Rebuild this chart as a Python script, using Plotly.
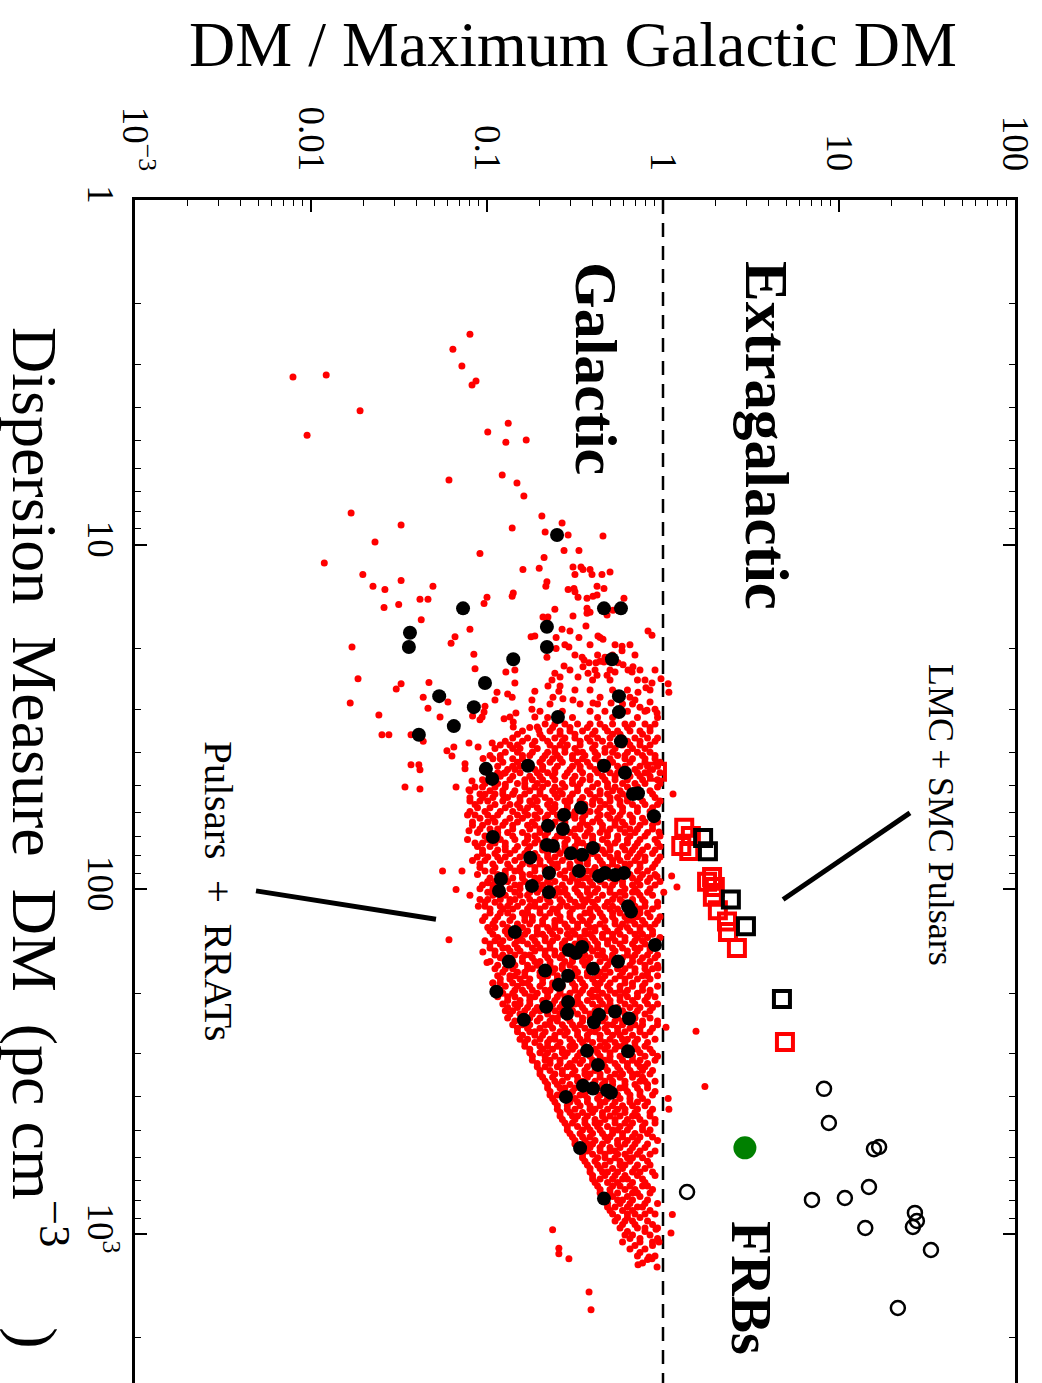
import plotly.graph_objects as go

# ---------------- data ----------------
# Pulsars (red dots): (DM [pc cm^-3], DM / max Galactic DM)
psr_upper = [(2.45,0.080),(2.71,0.064),(3.03,0.072),(3.35,0.0866),(3.44,0.0822),(3.26,0.0079),(3.22,0.0122),(4.09,0.0190),(4.81,0.0095),(4.44,0.132),(4.71,0.101),(5.04,0.128),(4.97,0.167),(6.49,0.0608),(6.28,0.122),(6.62,0.148),(7.22,0.162),(8.09,0.0169),(8.77,0.0325),(9.82,0.0231),(8.26,0.205),(8.65,0.267),(8.94,0.139),(9.19,0.214),(9.37,0.289),(9.44,0.456),(10.4,0.274),(10.4,0.333),(10.6,0.0912),(10.9,0.211),(11.3,0.0119),(12.2,0.0197),(13.2,0.0225),(13.5,0.0263),(12.7,0.0325),(13.2,0.0493),(14.4,0.0416),(14.4,0.0462),(14.2,0.100),(14.1,0.139),(13.8,0.141),(11.8,0.160),(11.7,0.198),(12.8,0.219),(13.2,0.216),(11.6,0.308),(11.6,0.342),(11.8,0.351),(11.8,0.385),(12.2,0.395),(12.2,0.316),(12.2,0.450),(12.0,0.500),(13.5,0.289),(13.4,0.312),(13.7,0.316),(13.2,0.422),(13.4,0.462),(14.2,0.329),(14.3,0.370),(14.1,0.400),(14.0,0.422),(14.3,0.600),(15.2,0.026),(14.9,0.0315),(16.5,0.0423),(14.8,0.0962),(15.3,0.370),(15.7,0.385),(15.8,0.370),(16.0,0.481),(15.5,0.520),(15.4,0.243),(16.2,0.208),(16.2,0.222),(16.7,0.219),(16.1,0.308),(17.2,0.365),(17.6,0.267),(17.8,0.296),(18.6,0.333),(18.4,0.427),(18.6,0.439),(18.8,0.456),(17.8,0.822),(18.3,0.866),(17.6,0.080),(18.5,0.0658),(19.3,0.0625),(19.8,0.0171),(18.5,0.178),(18.4,0.187),(18.6,0.247),(20.0,0.247),(19.8,0.292),(21.2,0.219),(19.7,0.585),(20.3,0.585),(21.2,0.468),(22.0,0.555),(22.3,0.593),(22.6,0.675),(23.4,0.667),(23.1,0.633),(20.8,0.0842),(22.9,0.0855),(23.4,0.128),(23.1,0.144),(25.2,0.144),(21.2,0.347),(21.6,0.356),(22.0,0.380),(22.0,0.416),(21.8,0.439),(21.9,0.462),(23.1,0.500),(23.4,0.534),(22.6,0.351),(23.6,0.375),(24.2,0.329),(23.9,0.422),(23.9,0.481),(22.5,0.274),(23.6,0.243),(24.2,0.260),(24.7,0.234),(25.7,0.222),(25.7,0.260),(26.6,0.256),(27.7,0.237),(28.0,0.270),(24.5,0.0185),(26.2,0.0305),(25.3,0.0325),(25.1,0.0468),(26.8,0.114),(27.1,0.131),(27.7,0.139),(26.6,0.187),(28.2,0.180),(28.8,0.0167),(27.7,0.0434),(28.6,0.0600),(31.2,0.0243),(29.8,0.0462),(29.4,0.0974),(28.2,0.111),(30.6,0.0962),(31.6,0.0938),(32.2,0.0912),(31.4,0.0828),(31.6,0.0541),(32.0,0.125),(31.6,0.135),(32.7,0.141),(30.8,0.146),(33.8,0.141),(30.0,0.180),(31.6,0.187),(30.4,0.200),(33.8,0.193),(34.5,0.197),(28.2,0.308),(28.8,0.400),(27.7,0.439),(28.8,0.507),(30.2,0.548),(27.7,0.649),(26.8,0.721),(26.0,0.800),(28.2,0.693),(29.6,0.740),(28.6,0.844),(30.2,0.811),(30.0,0.901),(30.8,0.925),(24.7,0.790),(25.2,0.866),(24.5,0.974),(25.3,1.07),(26.8,1.08),(35.6,0.0253),(35.6,0.0277),(35.6,0.0370),(37.2,0.0434),(43.5,0.0370),(43.5,0.0410),(45.0,0.0416),(50.5,0.0342),(51.1,0.0416),(39.6,0.0592),(41.0,0.0632),(38.6,0.0648),(37.6,0.0790),(38.6,0.0890),(37.6,0.107),(43.2,0.0750),(44.7,0.0750),(48.5,0.0822),(51.4,0.0790),(54.2,0.0800),(41.7,0.0950),(50.5,0.0667),(53.0,0.0974),(46.0,0.125),(49.5,0.127),(54.2,0.125),(53.0,0.141)]

psr_left_mid = [(88.4,0.0559),(88.4,0.0721),(100,0.0667),(104,0.0800),(67.6,0.0790),(80.6,0.0880),(95.6,0.101),(112,0.0893),(140,0.0608),(152,0.0947),(163,0.100),(187,0.108)]

psr_right = [(373,1.73),(404,1.07),(434,1.08),(251,1.04),(258,1.54),(52.9,1.14),(91.4,1.12),(98.4,1.20),(102,1.01),(68.1,0.949),(169,0.937),(91.7,0.925),(877,1.13),(993,1.11)]

psr_bottom = [(971,0.236),(1100,0.256),(1140,0.256),(1180,0.292),(1472,0.380),(1658,0.390),(1246,0.925),(1228,0.721),(1165,0.833),(1180,0.866),(968,0.913),(1054,0.949)]

# pulsar cloud read row by row (DM of the row, ratios along the row)
band_u_dm = [19.5, 20.9, 23.1, 24.7, 26.4, 29.0, 30.4, 31.7]
band_u_ratio = [
    [0.277,0.385,0.534,0.649],
    [0.316,0.425,0.517,0.693],
    [0.296,0.411,0.740,0.901],
    [0.398,0.500,0.716],
    [0.316,0.385,0.517,0.628,0.844],
    [0.228,0.338,0.425,0.589,0.671],
    [0.268,0.385,0.468,0.628,0.790],
    [0.221,0.306,0.425,0.517,0.716,0.931],
]

band_a_dm = [33.1, 34.7, 36.4, 38.1, 40.0, 41.8, 43.9, 45.9, 48.1, 50.5, 52.9]
band_a_ratio = [
    [0.214,0.243,0.277,0.327,0.385,0.439,0.517,0.608,0.671,0.790,0.901],
    [0.159,0.228,0.260,0.296,0.349,0.411,0.484,0.552,0.649,0.740,0.844],
    [0.140,0.170,0.207,0.243,0.277,0.316,0.372,0.425,0.500,0.589,0.693,0.817,0.931],
    [0.119,0.135,0.149,0.181,0.228,0.260,0.286,0.338,0.411,0.500,0.589,0.649,0.740,0.844],
    [0.127,0.149,0.181,0.221,0.243,0.277,0.327,0.349,0.411,0.468,0.517,0.628,0.716,0.844],
    [0.108,0.119,0.140,0.159,0.207,0.236,0.260,0.306,0.349,0.411,0.500,0.608,0.671,0.790,0.901],
    [0.115,0.140,0.154,0.175,0.207,0.251,0.306,0.338,0.385,0.484,0.552,0.608,0.740,0.817,0.931],
    [0.101,0.115,0.127,0.154,0.193,0.221,0.243,0.286,0.349,0.425,0.500,0.552,0.628,0.716,0.790,0.962],
    [0.0943,0.111,0.135,0.164,0.181,0.207,0.243,0.306,0.349,0.385,0.468,0.534,0.628,0.765,0.931],
    [0.0855,0.0943,0.111,0.127,0.164,0.187,0.207,0.243,0.277,0.327,0.398,0.484,0.534,0.628,0.716,0.931],
    [0.0912,0.111,0.123,0.140,0.164,0.200,0.243,0.268,0.306,0.385,0.439,0.484,0.589,0.649,0.740,0.872],
]
band_a2_dm = [33.9, 35.5, 37.2, 39.0, 40.9, 42.8, 44.9, 47.0, 49.3, 51.7, 54.1]
band_a2_ratio = [
    [0.175,0.236,0.296,0.372,0.468,0.628,0.844],
    [0.149,0.200,0.260,0.316,0.398,0.517,0.570,0.765],
    [0.127,0.159,0.187,0.221,0.268,0.338,0.385,0.453,0.552,0.628,0.740,0.901],
    [0.111,0.140,0.154,0.193,0.243,0.277,0.316,0.398,0.468,0.534,0.671,0.790],
    [0.104,0.119,0.159,0.175,0.214,0.251,0.306,0.360,0.425,0.552,0.608,0.765,0.901],
    [0.123,0.149,0.170,0.200,0.228,0.268,0.327,0.372,0.439,0.517,0.649,0.790,0.962],
    [0.0943,0.131,0.144,0.187,0.207,0.243,0.296,0.338,0.411,0.468,0.570,0.693,0.872],
    [0.119,0.140,0.175,0.200,0.236,0.277,0.316,0.385,0.453,0.534,0.649,0.740,0.844],
    [0.0974,0.115,0.149,0.164,0.193,0.221,0.268,0.306,0.338,0.425,0.484,0.589,0.693,0.790,0.962],
    [0.0800,0.104,0.123,0.144,0.175,0.200,0.236,0.260,0.327,0.372,0.439,0.517,0.570,0.693,0.844],
    [0.0943,0.108,0.131,0.154,0.187,0.214,0.251,0.296,0.349,0.411,0.500,0.552,0.628,0.740,0.901],
]

band_b_dm = [55.4, 58.0, 60.8, 63.7, 66.8, 70.0, 73.4, 76.9, 80.5, 84.4, 88.4, 92.7, 97.1]
band_b_ratio = [
    [0.0800,0.0912,0.101,0.123,0.154,0.175,0.193,0.228,0.277,0.296,0.338,0.398,0.439,0.500,0.570,0.628,0.765,0.962],
    [0.0883,0.104,0.127,0.154,0.170,0.193,0.228,0.243,0.286,0.327,0.360,0.439,0.500,0.589,0.716,0.872],
    [0.0775,0.0855,0.101,0.115,0.149,0.170,0.187,0.221,0.251,0.296,0.316,0.360,0.439,0.484,0.570,0.649,0.844],
    [0.0827,0.101,0.111,0.127,0.149,0.181,0.221,0.243,0.277,0.349,0.398,0.439,0.534,0.589,0.671,0.790,0.931],
    [0.0912,0.104,0.115,0.140,0.175,0.200,0.221,0.260,0.316,0.338,0.385,0.453,0.500,0.570,0.649,0.716,0.872],
    [0.0974,0.115,0.140,0.170,0.187,0.214,0.251,0.268,0.316,0.360,0.398,0.484,0.552,0.649,0.790,0.962],
    [0.0855,0.0943,0.111,0.127,0.164,0.187,0.207,0.243,0.277,0.327,0.349,0.398,0.484,0.534,0.628,0.716,0.931],
    [0.0943,0.115,0.127,0.144,0.170,0.207,0.251,0.277,0.316,0.398,0.453,0.500,0.608,0.671,0.765,0.901],
    [0.101,0.115,0.127,0.154,0.193,0.221,0.243,0.286,0.349,0.372,0.425,0.500,0.552,0.628,0.716,0.790,0.962],
    [0.0912,0.108,0.131,0.159,0.175,0.200,0.236,0.251,0.296,0.338,0.372,0.453,0.517,0.608,0.649,0.740,0.901],
    [0.0974,0.108,0.127,0.144,0.154,0.187,0.214,0.236,0.277,0.316,0.372,0.398,0.453,0.552,0.608,0.716,0.817],
    [0.104,0.127,0.140,0.159,0.187,0.200,0.228,0.277,0.306,0.349,0.372,0.439,0.500,0.552,0.671,0.740,0.844],
    [0.0943,0.108,0.119,0.144,0.154,0.181,0.207,0.228,0.268,0.327,0.349,0.398,0.468,0.517,0.589,0.671,0.740,0.901],
]
band_b2_dm = [56.7, 59.4, 62.2, 65.2, 68.4, 71.7, 75.1, 78.7, 82.4, 86.4, 90.5, 94.9, 99.5]
band_b2_ratio = [
    [0.0855,0.111,0.135,0.149,0.181,0.221,0.243,0.286,0.360,0.398,0.468,0.570,0.671,0.790,0.931],
    [0.0800,0.0974,0.119,0.140,0.164,0.200,0.236,0.268,0.316,0.385,0.425,0.517,0.589,0.716,0.844],
    [0.0912,0.108,0.135,0.159,0.193,0.214,0.260,0.316,0.349,0.425,0.500,0.552,0.671,0.765,0.901],
    [0.0827,0.0943,0.123,0.140,0.170,0.187,0.236,0.277,0.338,0.372,0.453,0.534,0.608,0.740,0.872],
    [0.0883,0.115,0.131,0.159,0.200,0.221,0.268,0.296,0.372,0.439,0.484,0.608,0.693,0.817],
    [0.0775,0.101,0.119,0.144,0.170,0.193,0.243,0.286,0.327,0.398,0.453,0.552,0.628,0.740,0.901],
    [0.0883,0.104,0.127,0.149,0.175,0.207,0.236,0.277,0.316,0.372,0.425,0.500,0.589,0.693,0.817,0.962],
    [0.0943,0.111,0.135,0.164,0.187,0.221,0.260,0.306,0.349,0.398,0.468,0.552,0.649,0.740,0.872],
    [0.0827,0.0974,0.119,0.144,0.170,0.200,0.228,0.268,0.327,0.372,0.439,0.517,0.570,0.693,0.790,0.931],
    [0.0912,0.111,0.135,0.154,0.187,0.214,0.251,0.296,0.338,0.411,0.484,0.552,0.628,0.740,0.872],
    [0.0883,0.115,0.127,0.159,0.175,0.221,0.260,0.306,0.349,0.398,0.468,0.517,0.649,0.765,0.901],
    [0.101,0.111,0.131,0.164,0.193,0.221,0.243,0.296,0.327,0.385,0.439,0.534,0.589,0.716,0.817,0.962],
    [0.0912,0.108,0.135,0.154,0.175,0.200,0.251,0.277,0.316,0.372,0.425,0.500,0.608,0.693,0.844],
]

band_c_dm = [102, 107, 112, 117, 123, 129, 135, 141, 148, 155, 162, 170, 178, 187, 196, 205]
band_c_ratio = [
    [0.101,0.119,0.144,0.175,0.193,0.221,0.260,0.277,0.327,0.372,0.411,0.500,0.570,0.671,0.716,0.817],
    [0.0912,0.101,0.119,0.135,0.144,0.175,0.200,0.221,0.260,0.296,0.349,0.372,0.425,0.517,0.570,0.671,0.765],
    [0.0974,0.119,0.131,0.149,0.175,0.187,0.214,0.260,0.286,0.327,0.349,0.411,0.468,0.517,0.628,0.693,0.790,0.931],
    [0.104,0.119,0.131,0.159,0.170,0.200,0.228,0.251,0.296,0.360,0.385,0.439,0.517,0.570,0.649,0.740,0.817],
    [0.0943,0.111,0.135,0.164,0.181,0.207,0.243,0.260,0.306,0.349,0.385,0.468,0.534,0.628,0.671,0.765,0.931],
    [0.101,0.111,0.131,0.149,0.159,0.193,0.221,0.243,0.286,0.327,0.385,0.411,0.468,0.570,0.628,0.740,0.844],
    [0.108,0.131,0.144,0.164,0.193,0.207,0.236,0.286,0.316,0.360,0.385,0.453,0.517,0.570,0.693,0.765,0.872],
    [0.0974,0.111,0.123,0.149,0.159,0.187,0.214,0.236,0.277,0.338,0.360,0.411,0.484,0.534,0.608,0.693,0.765,0.931],
    [0.104,0.123,0.131,0.149,0.181,0.200,0.228,0.268,0.286,0.338,0.385,0.425,0.517,0.589,0.693,0.740,0.844],
    [0.111,0.123,0.144,0.164,0.175,0.214,0.243,0.268,0.316,0.360,0.425,0.453,0.517,0.628,0.693,0.817,0.931],
    [0.104,0.127,0.140,0.159,0.187,0.200,0.228,0.277,0.306,0.349,0.372,0.439,0.500,0.552,0.671,0.740,0.844],
    [0.111,0.127,0.140,0.170,0.181,0.214,0.243,0.268,0.316,0.385,0.411,0.468,0.552,0.608,0.693,0.790,0.872],
    [0.115,0.135,0.144,0.164,0.200,0.221,0.251,0.296,0.316,0.372,0.425,0.468,0.570,0.649,0.765,0.817,0.931],
    [0.108,0.119,0.140,0.159,0.170,0.207,0.236,0.260,0.306,0.349,0.411,0.439,0.500,0.608,0.671,0.790],
    [0.119,0.144,0.159,0.181,0.214,0.228,0.260,0.316,0.349,0.398,0.425,0.500,0.570,0.628,0.765,0.844],
    [0.115,0.131,0.144,0.175,0.187,0.221,0.251,0.277,0.327,0.398,0.425,0.484,0.570,0.628,0.716,0.817,0.901],
]
band_c2_dm = [104, 109, 114, 120, 126, 132, 138, 144, 151, 158, 166, 174, 182, 191, 200, 210]
band_c2_ratio = [
    [0.108,0.127,0.154,0.170,0.214,0.243,0.286,0.338,0.385,0.453,0.534,0.608,0.740,0.872],
    [0.0974,0.111,0.135,0.159,0.187,0.228,0.268,0.316,0.360,0.398,0.484,0.589,0.671,0.790,0.931],
    [0.104,0.123,0.140,0.170,0.200,0.236,0.251,0.306,0.385,0.425,0.500,0.552,0.649,0.740,0.872],
    [0.0974,0.115,0.140,0.164,0.181,0.214,0.260,0.296,0.338,0.398,0.453,0.517,0.608,0.716,0.844,0.962],
    [0.108,0.123,0.149,0.175,0.207,0.243,0.277,0.327,0.372,0.439,0.534,0.589,0.693,0.790,0.901],
    [0.104,0.127,0.140,0.170,0.193,0.228,0.260,0.306,0.360,0.411,0.484,0.552,0.649,0.740,0.872],
    [0.115,0.135,0.154,0.181,0.214,0.251,0.296,0.338,0.398,0.453,0.517,0.608,0.716,0.817,0.962],
    [0.104,0.119,0.144,0.170,0.193,0.228,0.268,0.316,0.372,0.425,0.484,0.570,0.671,0.790,0.901],
    [0.111,0.135,0.154,0.187,0.214,0.243,0.286,0.327,0.398,0.453,0.534,0.628,0.716,0.844],
    [0.119,0.131,0.159,0.181,0.221,0.260,0.306,0.349,0.385,0.468,0.517,0.589,0.671,0.765,0.901],
    [0.115,0.144,0.170,0.193,0.228,0.268,0.296,0.360,0.411,0.484,0.570,0.649,0.790,0.931],
    [0.123,0.149,0.164,0.200,0.236,0.277,0.327,0.372,0.439,0.500,0.589,0.693,0.817],
    [0.119,0.135,0.154,0.175,0.207,0.251,0.286,0.338,0.398,0.453,0.534,0.608,0.716,0.844],
    [0.127,0.149,0.175,0.200,0.236,0.268,0.316,0.360,0.425,0.484,0.570,0.671,0.765,0.931],
    [0.123,0.140,0.164,0.193,0.221,0.260,0.296,0.338,0.385,0.453,0.534,0.608,0.716,0.844],
    [0.131,0.154,0.175,0.207,0.243,0.277,0.327,0.372,0.439,0.500,0.570,0.671,0.790],
]

band_d_dm = [215, 225, 236, 247, 259, 272, 285, 298, 313, 327, 343, 360, 377, 395, 414, 434, 454, 476, 499, 523, 548, 574]
band_d_ratio = [
    [0.123,0.144,0.154,0.175,0.214,0.236,0.268,0.316,0.338,0.398,0.453,0.500,0.608,0.693,0.817,0.931],
    [0.127,0.140,0.164,0.187,0.200,0.243,0.277,0.306,0.360,0.411,0.484,0.517,0.589,0.716,0.844],
    [0.131,0.159,0.175,0.200,0.236,0.251,0.286,0.349,0.385,0.439,0.468,0.552,0.628,0.693,0.844],
    [0.140,0.159,0.175,0.214,0.228,0.268,0.306,0.338,0.398,0.484,0.517,0.589,0.693,0.765,0.931],
    [0.149,0.175,0.187,0.214,0.260,0.286,0.327,0.385,0.411,0.484,0.552,0.608,0.740,0.844],
    [0.154,0.170,0.200,0.228,0.243,0.296,0.338,0.372,0.439,0.500,0.589,0.628,0.716,0.901],
    [0.164,0.200,0.221,0.251,0.296,0.316,0.360,0.439,0.484,0.552,0.589,0.693,0.790],
    [0.175,0.200,0.221,0.268,0.286,0.338,0.385,0.425,0.500,0.608,0.649,0.740,0.872],
    [0.181,0.214,0.228,0.260,0.316,0.349,0.398,0.468,0.500,0.589,0.671,0.740,0.901],
    [0.193,0.214,0.251,0.286,0.306,0.372,0.425,0.468,0.552,0.628,0.740,0.790],
    [0.200,0.243,0.268,0.306,0.360,0.385,0.439,0.534,0.589,0.671,0.716,0.844],
    [0.214,0.243,0.268,0.327,0.349,0.411,0.468,0.517,0.608,0.740,0.790,0.901],
    [0.221,0.260,0.277,0.316,0.385,0.425,0.484,0.570,0.608,0.716,0.817],
    [0.228,0.251,0.296,0.338,0.360,0.439,0.500,0.552,0.649,0.740,0.872],
    [0.243,0.296,0.327,0.372,0.439,0.468,0.534,0.649,0.716,0.817],
    [0.251,0.286,0.316,0.385,0.411,0.484,0.552,0.608,0.716,0.872],
    [0.260,0.306,0.327,0.372,0.453,0.500,0.570,0.671,0.716,0.844],
    [0.277,0.306,0.360,0.411,0.439,0.534,0.608,0.671,0.790,0.901],
    [0.286,0.349,0.385,0.439,0.517,0.552,0.628,0.765,0.844],
    [0.306,0.349,0.385,0.468,0.500,0.589,0.671,0.740,0.872],
    [0.316,0.372,0.398,0.453,0.552,0.608,0.693,0.817],
    [0.338,0.372,0.439,0.500,0.534,0.649,0.740,0.901],
]
band_d2_dm = [220, 230, 241, 253, 265, 278, 291, 305, 320, 335, 351, 368, 386, 404, 424, 444, 465, 487, 511, 535, 561, 587]
band_d2_ratio = [
    [0.131,0.149,0.170,0.193,0.228,0.260,0.296,0.349,0.425,0.484,0.552,0.649,0.740,0.872],
    [0.135,0.154,0.181,0.221,0.260,0.286,0.327,0.385,0.439,0.517,0.608,0.693,0.790],
    [0.144,0.164,0.193,0.228,0.251,0.296,0.349,0.398,0.453,0.534,0.589,0.671,0.765,0.931],
    [0.149,0.170,0.200,0.236,0.277,0.316,0.360,0.425,0.468,0.552,0.649,0.740,0.872],
    [0.159,0.187,0.207,0.243,0.277,0.327,0.372,0.439,0.517,0.570,0.671,0.790],
    [0.164,0.187,0.221,0.260,0.306,0.349,0.398,0.468,0.534,0.608,0.693,0.817],
    [0.175,0.207,0.236,0.268,0.306,0.360,0.411,0.468,0.534,0.628,0.716,0.844],
    [0.181,0.214,0.243,0.277,0.327,0.385,0.439,0.500,0.570,0.671,0.790,0.931],
    [0.193,0.228,0.260,0.296,0.338,0.398,0.453,0.534,0.628,0.716,0.817],
    [0.200,0.228,0.268,0.316,0.360,0.411,0.484,0.570,0.649,0.765,0.872],
    [0.207,0.236,0.286,0.327,0.372,0.439,0.500,0.570,0.671,0.765],
    [0.221,0.251,0.296,0.338,0.398,0.453,0.517,0.608,0.693,0.817],
    [0.228,0.268,0.306,0.360,0.411,0.468,0.534,0.628,0.740,0.901],
    [0.236,0.277,0.316,0.372,0.425,0.484,0.570,0.649,0.765],
    [0.251,0.286,0.338,0.385,0.439,0.517,0.589,0.671,0.790],
    [0.260,0.296,0.349,0.398,0.453,0.534,0.608,0.693,0.844],
    [0.268,0.316,0.360,0.411,0.468,0.534,0.628,0.740,0.901],
    [0.286,0.327,0.372,0.425,0.484,0.570,0.649,0.765],
    [0.296,0.338,0.398,0.453,0.517,0.589,0.693,0.817],
    [0.316,0.360,0.411,0.484,0.552,0.628,0.716,0.931],
    [0.327,0.385,0.439,0.500,0.570,0.671,0.790],
    [0.349,0.398,0.468,0.552,0.608,0.716,0.844],
]

band_e_dm = [601, 630, 660, 692, 725, 760, 796, 834, 874, 916, 960, 1006, 1054, 1105, 1157, 1213]
band_e_ratio = [
    [0.349,0.425,0.468,0.534,0.628,0.671,0.765],
    [0.372,0.425,0.468,0.570,0.608,0.716,0.844],
    [0.385,0.453,0.484,0.552,0.671,0.740,0.872],
    [0.398,0.439,0.517,0.589,0.628,0.765],
    [0.425,0.517,0.570,0.649,0.765,0.817],
    [0.439,0.500,0.552,0.671,0.716,0.844],
    [0.468,0.552,0.589,0.671,0.817],
    [0.484,0.534,0.628,0.716,0.765],
    [0.517,0.628,0.693,0.790,0.901],
    [0.534,0.608,0.671,0.817],
    [0.570,0.716,0.790,0.931],
    [0.608,0.671,0.844],
    [0.589,0.740,0.872],
    [0.649,0.790],
    [0.716,0.901],
    [0.765],
]
band_e2_dm = [615, 645, 676, 708, 742, 778, 815, 854, 895, 938, 983, 1030, 1079, 1131, 1185]
band_e2_ratio = [
    [0.360,0.411,0.500,0.570,0.649,0.817],
    [0.385,0.439,0.517,0.589,0.693,0.790],
    [0.398,0.468,0.534,0.608,0.716,0.901],
    [0.411,0.484,0.552,0.671,0.790],
    [0.439,0.500,0.608,0.693,0.872],
    [0.453,0.517,0.628,0.740],
    [0.484,0.570,0.649,0.790,0.931],
    [0.500,0.589,0.671,0.844],
    [0.552,0.628,0.740],
    [0.589,0.693,0.872],
    [0.628,0.790],
    [0.649,0.740,0.931],
    [0.693,0.872],
    [0.740],
    [0.817],
]

# RRATs (black dots)
rrat_dm = [9.37,15.3,15.3,15.3,18.0,19.8,17.3,19.8,21.5,21.5,25.2,27.5,29.6,27.5,30.6,31.6,33.6,35.6,37.2,43.8,44.7,47.8,43.8,45.9,52.9,52.6,61.3,58.0,60.8,66.8,65.4,74.3,74.8,75.8,78.6,79.4,70.5,80.9,89.6,88.4,91.4,89.6,90.8,89.6,93.3,101,97.7,102,112,116,133,150,153,147,145,162,162,170,172,178,189,198,212,229,219,239,231,243,226,237,294,295,323,371,378,383,389,400,563,789]
rrat_ratio = [0.250,0.0731,0.462,0.577,0.0365,0.0360,0.219,0.219,0.141,0.513,0.0974,0.0535,0.0842,0.562,0.562,0.253,0.0648,0.0410,0.577,0.171,0.0986,0.107,0.462,0.608,0.675,0.721,0.889,0.342,0.274,0.270,0.222,0.219,0.237,0.400,0.300,0.347,0.108,0.176,0.225,0.333,0.433,0.468,0.534,0.600,0.120,0.117,0.180,0.225,0.633,0.658,0.144,0.292,0.320,0.347,0.901,0.133,0.555,0.400,0.214,0.289,0.256,0.113,0.289,0.285,0.217,0.162,0.433,0.405,0.534,0.641,0.370,0.633,0.427,0.351,0.400,0.481,0.506,0.281,0.338,0.462]

# Magellanic Cloud pulsars (open squares)
mc_red = [(45.6,0.924),(66.3,1.32),(74.8,1.27),(70.0,1.44),(77.4,1.41),(95.1,1.78),(92.0,1.90),(98.4,1.97),(105,1.92),(115,2.05),(124,2.31),(133,2.34),(148,2.63),(277,4.93)]
mc_black = [(71.0,1.69),(77.5,1.80),(107,2.43),(128,2.96),(208,4.74)]

# FRBs (open circles) and the single green FRB
frb = [(379,8.22),(476,8.76),(559,16.9),(567,15.8),(755,1.37),(796,7.02),(786,10.8),(730,14.8),(960,14.1),(868,27.0),(916,27.7),(954,26.3),(1112,33.3),(1638,21.6)]
frb_green = [(562,2.92)]

# reference / pointer lines
galactic_limit_ratio = [1, 1]
galactic_limit_dm = [1, 3000]
lmc_pointer_ratio = [4.81, 25.3]
lmc_pointer_dm = [107, 60.0]
psr_pointer_ratio = [0.00487, 0.0513]
psr_pointer_dm = [101, 122]

x_tickvals = [1e-3, 1e-2, 1e-1, 1, 10, 100]
x_ticktext = ["10<sup>\u22123</sup>", "0.01", "0.1", "1", "10", "100"]
y_tickvals = [1, 10, 100, 1000]
y_ticktext = ["1", "10", "100", "10<sup>3</sup>"]

# ---------------- assemble ----------------
def unzip(pairs):
    return [p[1] for p in pairs], [p[0] for p in pairs]

def expand(rows_dm, rows_ratio):
    xs, ys = [], []
    for d, rs in zip(rows_dm, rows_ratio):
        for r in rs:
            xs.append(r)
            ys.append(d)
    return xs, ys

psr_x, psr_y = [], []
for pairs in (psr_upper, psr_left_mid, psr_right, psr_bottom):
    a, b = unzip(pairs)
    psr_x += a
    psr_y += b
for dm_rows, r_rows in ((band_u_dm, band_u_ratio),
                        (band_a_dm, band_a_ratio), (band_a2_dm, band_a2_ratio),
                        (band_b_dm, band_b_ratio), (band_b2_dm, band_b2_ratio),
                        (band_c_dm, band_c_ratio), (band_c2_dm, band_c2_ratio),
                        (band_d_dm, band_d_ratio), (band_d2_dm, band_d2_ratio),
                        (band_e_dm, band_e_ratio), (band_e2_dm, band_e2_ratio)):
    a, b = expand(dm_rows, r_rows)
    psr_x += a
    psr_y += b

FONT = "Liberation Serif"
fig = go.Figure()

fig.add_trace(go.Scatter(x=galactic_limit_ratio, y=galactic_limit_dm, mode="lines",
                         line=dict(color="black", width=2.5, dash="14px,9px"),
                         hoverinfo="skip", showlegend=False))
fig.add_trace(go.Scatter(x=psr_x, y=psr_y, mode="markers",
                         marker=dict(color="#ff0000", size=7, line=dict(width=0)),
                         showlegend=False))
fig.add_trace(go.Scatter(x=rrat_ratio, y=rrat_dm, mode="markers",
                         marker=dict(color="black", size=14, line=dict(width=0)),
                         showlegend=False))
mx, my = unzip(mc_red)
fig.add_trace(go.Scatter(x=mx, y=my, mode="markers",
                         marker=dict(symbol="square-open", color="#ff0000", size=16,
                                     line=dict(width=4, color="#ff0000")),
                         showlegend=False))
mx, my = unzip(mc_black)
fig.add_trace(go.Scatter(x=mx, y=my, mode="markers",
                         marker=dict(symbol="square-open", color="black", size=16,
                                     line=dict(width=4, color="black")),
                         showlegend=False))
fx, fy = unzip(frb)
fig.add_trace(go.Scatter(x=fx, y=fy, mode="markers",
                         marker=dict(symbol="circle-open", color="black", size=14,
                                     line=dict(width=2.5, color="black")),
                         showlegend=False))
gx, gy = unzip(frb_green)
fig.add_trace(go.Scatter(x=gx, y=gy, mode="markers",
                         marker=dict(color="#008000", size=23, line=dict(width=0)),
                         showlegend=False))
fig.add_trace(go.Scatter(x=lmc_pointer_ratio, y=lmc_pointer_dm, mode="lines",
                         line=dict(color="black", width=5), hoverinfo="skip", showlegend=False))
fig.add_trace(go.Scatter(x=psr_pointer_ratio, y=psr_pointer_dm, mode="lines",
                         line=dict(color="black", width=5), hoverinfo="skip", showlegend=False))

minor_x = [m * 10.0 ** e for e in range(-3, 2) for m in range(2, 10)]
minor_y = [m * 10.0 ** e for e in range(0, 4) for m in range(2, 10)]

fig.update_layout(
    width=1042, height=1383,
    margin=dict(l=135, r=27, t=200, b=0),
    paper_bgcolor="white", plot_bgcolor="white",
    font=dict(family=FONT, color="black"),
    hovermode=False,
    xaxis=dict(type="log", range=[-3, 2], side="top", showline=True, linewidth=2.5,
               linecolor="black", mirror=False, ticks="inside", ticklen=12, tickwidth=1.5,
               tickcolor="black", tickmode="array", tickvals=x_tickvals, ticktext=x_ticktext,
               tickangle=90, tickfont=dict(family=FONT, size=37, color="black"),
               ticklabelstandoff=13,
               showgrid=False, zeroline=False,
               minor=dict(tickmode="array", tickvals=minor_x, ticks="inside", ticklen=6,
                          tickwidth=1.2, tickcolor="black", showgrid=False)),
    yaxis=dict(type="log", range=[3.432, 0], showline=True, linewidth=2.5,
               linecolor="black", mirror="ticks", ticks="inside", ticklen=12, tickwidth=1.5,
               tickcolor="black", tickmode="array", tickvals=y_tickvals, ticktext=y_ticktext,
               tickangle=90, tickfont=dict(family=FONT, size=37, color="black"),
               showgrid=False, zeroline=False,
               minor=dict(tickmode="array", tickvals=minor_y, ticks="inside", ticklen=6,
                          tickwidth=1.2, tickcolor="black", showgrid=False)),
)

def px2paper(px, py):
    return (px - 135) / 880.0, (1383 - py) / 1183.0

def add_label(text, px, py, size, angle=90):
    x, y = px2paper(px, py)
    fig.add_annotation(text=text, x=x, y=y, xref="paper", yref="paper",
                       xanchor="center", yanchor="middle", showarrow=False,
                       textangle=angle, font=dict(family=FONT, size=size, color="black"))

add_label("DM / Maximum Galactic DM", 573, 45, 64, angle=0)
add_label("Dispersion\u00a0 Measure\u00a0 DM\u00a0 (pc\u00a0cm<sup>\u22123</sup>\u2003\u00a0)", 40, 838, 64)
add_label("<b>Extragalactic</b>", 766, 435, 61)
add_label("<b>Galactic</b>", 596, 368, 60)
add_label("<b>FRBs</b>", 751, 1288, 56)
add_label("LMC\u2009+\u2009SMC Pulsars", 941, 815, 36)
add_label("Pulsars\u00a0 +\u00a0 RRATs", 219, 891, 41)

fig.write_html("out.html")
